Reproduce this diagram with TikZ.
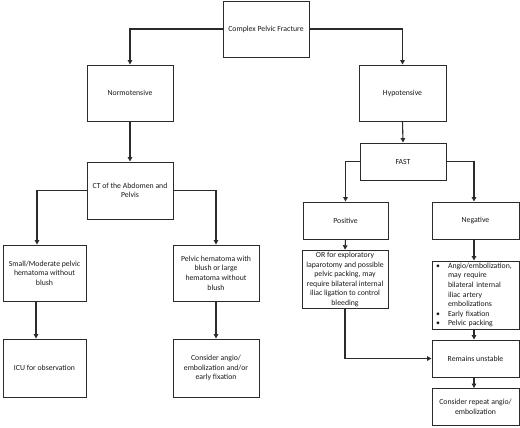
\documentclass[tikz,border=0pt]{standalone}
\usepackage{fontspec}
\setmainfont{Carlito}
\usetikzlibrary{arrows.meta}
\definecolor{ln}{HTML}{2B2B2B}
\tikzset{
  box/.style={draw=ln, line width=0.9bp, align=center, inner sep=2bp,
    font=\fontsize{7.8}{9.6}\selectfont, text=black!90},
  conn/.style={draw=ln, line width=1.1bp, -{Triangle[length=4.5bp,width=4.5bp]}},
}
\begin{document}
\begin{tikzpicture}[x=1bp,y=-1bp]
\useasboundingbox (0,0) rectangle (520,427);
\node[box, minimum width=86bp, minimum height=56bp] (top) at (266,29) {Complex Pelvic Fracture};
\node[box, minimum width=86bp, minimum height=56bp] (norm) at (130,93) {Normotensive};
\node[box, minimum width=87bp, minimum height=56bp] (hypo) at (402.5,93) {Hypotensive};
\node[box, minimum width=86bp, minimum height=57bp] (ct) at (130,190.5) {CT of the Abdomen and\\Pelvis};
\node[box, minimum width=83bp, minimum height=56bp] (small) at (44.5,273) {Small/Moderate pelvic\\hematoma without\\blush};
\node[box, minimum width=86bp, minimum height=56bp] (pelh) at (216,273) {Pelvic hematoma with\\blush or large\\hematoma without\\blush};
\node[box, minimum width=83bp, minimum height=58bp] (icu) at (44.5,368) {ICU for observation};
\node[box, minimum width=86bp, minimum height=58bp] (cons) at (216,368) {Consider angio/\\embolization and/or\\early fixation};
\node[box, minimum width=86bp, minimum height=37bp] (fast) at (403,161.5) {FAST};
\node[box, minimum width=85bp, minimum height=37bp] (pos) at (345.5,220.5) {Positive};
\node[box, minimum width=87bp, minimum height=37bp] (neg) at (475.5,220.5) {Negative};
\node[box, minimum width=86bp, minimum height=57bp] (or) at (345,279.5) {OR for exploratory\\laparotomy and possible\\pelvic packing, may\\require bilateral internal\\iliac ligation to control\\bleeding};
\node[box, align=left, text width=79bp, inner xsep=4bp, minimum height=68bp] (bul) at (475.5,295)
{\makebox[12bp][l]{\textbullet}Angio/embolization,\\
\hspace*{12bp}may require\\
\hspace*{12bp}bilateral internal\\
\hspace*{12bp}iliac artery\\
\hspace*{12bp}embolizations\\
\makebox[12bp][l]{\textbullet}Early fixation\\
\makebox[12bp][l]{\textbullet}Pelvic packing};
\node[box, minimum width=87bp, minimum height=37bp] (rem) at (475.5,358.5) {Remains unstable};
\node[box, minimum width=87bp, minimum height=37bp] (rep) at (475.5,407) {Consider repeat angio/\\embolization};

\draw[conn] (top.west) -| (norm.north);
\draw[conn] (top.east) -| (hypo.north);
\draw[conn] (norm.south) -- (ct.north);
\draw[conn] (ct.west) -| ([xshift=-7.5bp]small.north);
\draw[conn] (ct.east) -| (pelh.north);
\draw[conn] ([xshift=-8.5bp]small.south) -- ([xshift=-8.5bp]icu.north);
\draw[conn] (pelh.south) -- (cons.north);
\draw[conn] (hypo.south) -- (fast.north);
\draw[conn] (fast.west) -| (pos.north);
\draw[conn] (fast.east) -| ([xshift=-1.5bp]neg.north);
\draw[conn] (pos.south) -- (or.north);
\draw[conn] ([xshift=-1.5bp]neg.south) -- ([xshift=-1.5bp]bul.north);
\draw[conn] ([xshift=-1.5bp]bul.south) -- ([xshift=-1.5bp]rem.north);
\draw[conn] (or.south) |- (rem.west);
\draw[conn] ([xshift=-1.5bp]rem.south) -- ([xshift=-1.5bp]rep.north);
\end{tikzpicture}
\end{document}
